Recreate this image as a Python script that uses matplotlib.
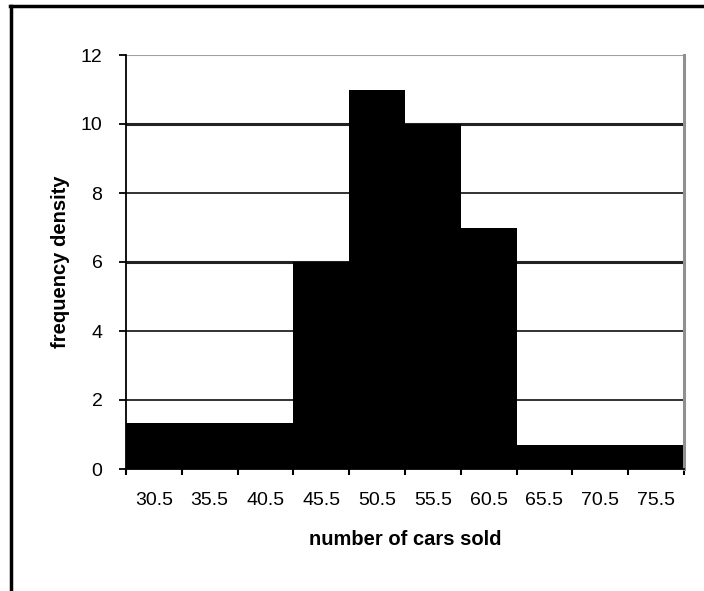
import matplotlib
matplotlib.use("Agg")
import matplotlib.pyplot as plt
from matplotlib.lines import Line2D

categories = ["30.5", "35.5", "40.5", "45.5", "50.5", "55.5", "60.5", "65.5", "70.5", "75.5"]
density = [1.33, 1.33, 1.33, 6, 11, 10, 7, 0.7, 0.7, 0.7]
yticks = [0, 2, 4, 6, 8, 10, 12]

W, H = 704, 591
fig = plt.figure(figsize=(W / 100, H / 100), dpi=100)
ax = fig.add_axes([126 / W, 1 - 469 / H, (684 - 126) / W, (469 - 55) / H])

font_tick = {"family": ["Liberation Sans", "DejaVu Sans"], "size": 14}
font_lab = {"family": ["Liberation Sans", "DejaVu Sans"], "size": 14.5, "weight": "bold"}

# gridlines
grid_lw = {2: 1.3, 4: 1.3, 6: 2.2, 8: 1.3, 10: 2.2}
for v in yticks[1:-1]:
    ax.axhline(v, color="#222222", lw=grid_lw[v], zorder=1)
ax.axhline(12, color="#a0a0a0", lw=1.5, zorder=1)

xs = list(range(len(categories)))
ax.bar(xs, density, width=1.0, align="edge", color="black", edgecolor="none", zorder=2)

ax.set_xlim(0, len(categories))
ax.set_ylim(0, 12)
ax.set_yticks(yticks)
ax.set_yticklabels([str(v) for v in yticks], fontdict=font_tick)
ax.set_xticks(range(len(categories) + 1))
ax.set_xticklabels([""] * (len(categories) + 1))
for i, c in enumerate(categories):
    ax.text(i + 0.5, -0.9, c, ha="center", va="center", fontdict=font_tick)

ax.tick_params(axis="y", direction="out", length=5, width=1.3, pad=12, colors="black")
ax.tick_params(axis="x", direction="out", length=4, width=1.5, pad=2, colors="black")

ax.spines["left"].set_linewidth(1.3)
ax.spines["bottom"].set_linewidth(1.3)
ax.spines["top"].set_visible(False)
ax.spines["right"].set_color("#909090")
ax.spines["right"].set_linewidth(2.2)

ax.set_ylabel("frequency density", fontdict=font_lab, labelpad=8)
ax.set_xlabel("number of cars sold", fontdict=font_lab, labelpad=38)

# outer frame (top and left edges)
fig.add_artist(Line2D([10 / W, 1.0], [1 - 5.5 / H, 1 - 5.5 / H], transform=fig.transFigure, color="black", lw=2.5))
fig.add_artist(Line2D([10.5 / W, 10.5 / W], [0, 1 - 5.5 / H], transform=fig.transFigure, color="black", lw=2.5))

fig.savefig("out.png", dpi=100)
